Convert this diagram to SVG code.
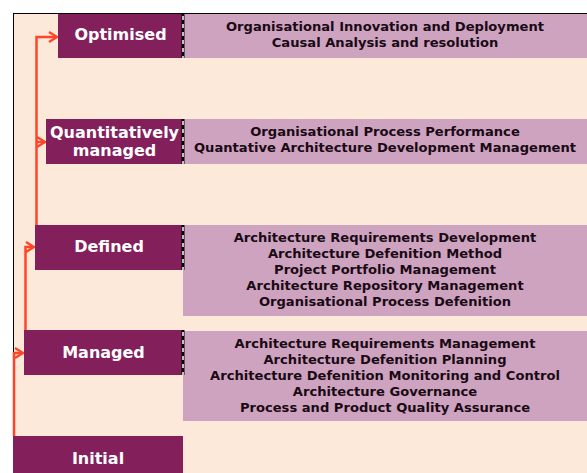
<svg xmlns="http://www.w3.org/2000/svg" width="587" height="473" viewBox="0 0 587 473">
<style>
.lvl{fill:#83205C}
.lbl{fill:#FFFFFF;font-family:"DejaVu Sans",Verdana,sans-serif;font-weight:bold;font-size:16px;text-anchor:middle}
.pa{fill:#CDA3C0}
.pt{fill:#1A0A14;font-family:"DejaVu Sans",Verdana,sans-serif;font-weight:bold;font-size:13.1px;text-anchor:middle}
.sepb{stroke:#000;stroke-width:3}
.sepw{stroke:#fff;stroke-width:1.5;stroke-dasharray:4 4}
.con{fill:none;stroke:#FF4427;stroke-width:2.5}
</style>
<defs>
<marker id="ah" viewBox="0 0 10 12" refX="9" refY="6" markerWidth="10" markerHeight="12" markerUnits="userSpaceOnUse" orient="auto">
<polyline points="1,1 9,6 1,11" fill="none" stroke="#FF4427" stroke-width="2.2"/>
</marker>
</defs>
<rect x="13.5" y="13.5" width="580" height="466" fill="#FCE9D9" stroke="#000" stroke-width="1"/>

<g id="initial">
<rect class="lvl" x="13" y="436" width="170" height="40"/>
<text class="lbl" x="98" y="464">Initial</text>
</g>

<g id="managed">
<rect class="lvl" x="24" y="330" width="159" height="45"/>
<text class="lbl" x="103.5" y="358">Managed</text>
<rect class="pa" x="183" y="331" width="404" height="90"/>
<line class="sepb" x1="183" y1="330" x2="183" y2="375"/>
<line class="sepw" x1="183" y1="332" x2="183" y2="375"/>
<text class="pt" x="385" y="348">Architecture Requirements Management</text>
<text class="pt" x="385" y="364">Architecture Defenition Planning</text>
<text class="pt" x="385" y="380">Architecture Defenition Monitoring and Control</text>
<text class="pt" x="385" y="396">Architecture Governance</text>
<text class="pt" x="385" y="412">Process and Product Quality Assurance</text>
</g>

<g id="defined">
<rect class="lvl" x="35" y="225" width="148" height="45"/>
<text class="lbl" x="109" y="252">Defined</text>
<rect class="pa" x="183" y="225" width="404" height="91"/>
<line class="sepb" x1="183" y1="225" x2="183" y2="270"/>
<line class="sepw" x1="183" y1="227" x2="183" y2="270"/>
<text class="pt" x="385" y="242">Architecture Requirements Development</text>
<text class="pt" x="385" y="258">Architecture Defenition Method</text>
<text class="pt" x="385" y="274">Project Portfolio Management</text>
<text class="pt" x="385" y="290">Architecture Repository Management</text>
<text class="pt" x="385" y="306">Organisational Process Defenition</text>
</g>

<g id="quantitatively">
<rect class="lvl" x="46" y="119" width="137" height="45"/>
<text class="lbl" x="114.5" y="138">Quantitatively</text>
<text class="lbl" x="114.5" y="156">managed</text>
<rect class="pa" x="183" y="119" width="404" height="45"/>
<line class="sepb" x1="183" y1="119" x2="183" y2="164"/>
<line class="sepw" x1="183" y1="121" x2="183" y2="164"/>
<text class="pt" x="385" y="136">Organisational Process Performance</text>
<text class="pt" x="385" y="152">Quantative Architecture Development Management</text>
</g>

<g id="optimised">
<rect class="lvl" x="58" y="14" width="125" height="44"/>
<text class="lbl" x="120.5" y="40">Optimised</text>
<rect class="pa" x="183" y="14" width="404" height="44"/>
<line class="sepb" x1="183" y1="14" x2="183" y2="58"/>
<line class="sepw" x1="183" y1="16" x2="183" y2="58"/>
<text class="pt" x="385" y="31">Organisational Innovation and Deployment</text>
<text class="pt" x="385" y="47">Causal Analysis and resolution</text>
</g>

<g id="connectors">
<path class="con" d="M14,436 V353 H23" marker-end="url(#ah)"/>
<path class="con" d="M25.5,330 V247 H34" marker-end="url(#ah)"/>
<path class="con" d="M36.5,225 V37 H57" marker-end="url(#ah)"/>
<path class="con" d="M36.5,142 H45" marker-end="url(#ah)"/>
</g>
</svg>
